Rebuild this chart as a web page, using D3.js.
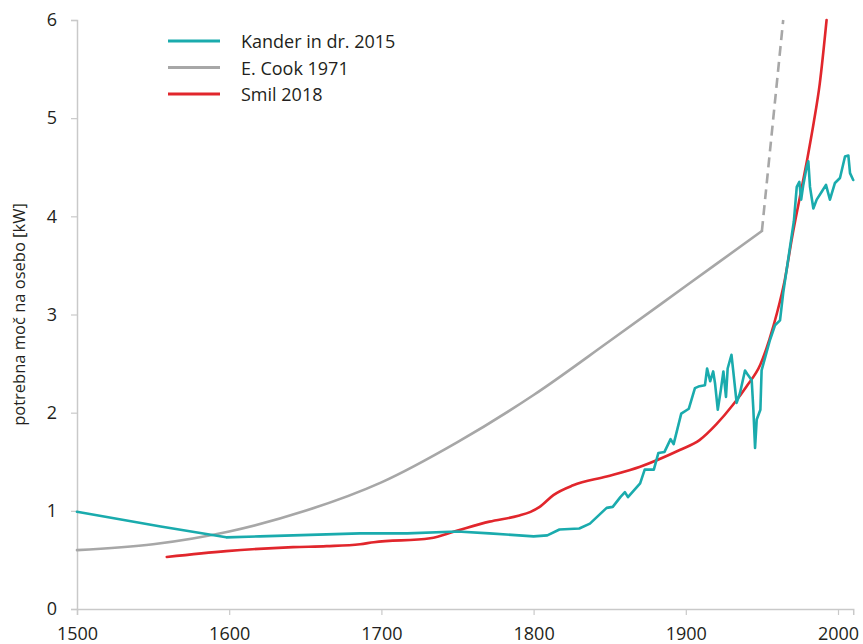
<!DOCTYPE html>
<html>
<head>
<meta charset="utf-8">
<script src="https://cdn.jsdelivr.net/npm/d3@7"></script>
<style>
  body { margin: 0; background: #fff; }
  text { font-family: "Open Sans", sans-serif; fill: #231f20; }
</style>
</head>
<body>
<div id="viz"></div>
<script>
const width = 863;
const height = 644;
const margin = {top: 20, right: 9, bottom: 35, left: 77};

const xTicks = [1500, 1600, 1700, 1800, 1900, 2000];
const yTicks = [0, 1, 2, 3, 4, 5, 6];
const yTitle = 'potrebna moč na osebo [kW]';

// Kander in dr. 2015
const kanderYears = [1500, 1555, 1598, 1620, 1686, 1717, 1750, 1771, 1800, 1809, 1817, 1830, 1837, 1848, 1852,
  1857, 1860, 1862, 1870, 1873, 1879, 1882, 1886, 1890, 1892, 1897, 1902, 1906, 1909, 1912.6, 1914, 1916, 1918,
  1919.2, 1921, 1923, 1924.7, 1926.4, 1927.5, 1930, 1931.2, 1933.4, 1935.6, 1938.9, 1941, 1943.3, 1944.4, 1945.5,
  1946.6, 1949, 1949.8, 1955.3, 1958.6, 1961.9, 1964, 1968.5, 1971, 1972.9, 1974.6, 1975.8, 1977.2, 1979.5, 1980.5,
  1981.6, 1983.8, 1986, 1989.3, 1992.1, 1994.7, 1998, 2001.3, 2004.6, 2006.8, 2007.9, 2010];
const kanderValues = [0.99, 0.84, 0.73, 0.74, 0.77, 0.77, 0.79, 0.77, 0.74, 0.75, 0.81, 0.82, 0.87, 1.03, 1.04,
  1.14, 1.19, 1.14, 1.28, 1.42, 1.42, 1.59, 1.6, 1.73, 1.68, 1.99, 2.04, 2.25, 2.27, 2.28, 2.45, 2.32, 2.42,
  2.3, 2.03, 2.23, 2.42, 2.16, 2.45, 2.59, 2.42, 2.1, 2.2, 2.43, 2.38, 2.33, 2.03, 1.64,
  1.93, 2.03, 2.43, 2.74, 2.89, 2.94, 3.22, 3.69, 3.95, 4.3, 4.35, 4.17, 4.32, 4.51, 4.56,
  4.3, 4.08, 4.17, 4.25, 4.32, 4.17, 4.34, 4.39, 4.61, 4.62, 4.44, 4.37];

// E. Cook 1971 (solid part, then dashed extension)
const cookYears = [1500, 1550, 1600, 1650, 1700, 1750, 1800, 1850, 1900, 1950];
const cookValues = [0.6, 0.66, 0.79, 1.0, 1.29, 1.7, 2.18, 2.73, 3.29, 3.85];
const cookDashYears = [1950, 1964];
const cookDashValues = [3.85, 6.0];

// Smil 2018
const smilYears = [1559, 1598, 1642, 1664, 1686, 1695, 1732, 1750, 1771, 1790, 1798, 1804, 1813, 1826, 1848, 1870, 1896,
  1909, 1920, 1931, 1940, 1949, 1955, 1960, 1965, 1970, 1975, 1980, 1984, 1988, 1992.5];
const smilValues = [0.53, 0.59, 0.63, 0.64, 0.66, 0.68, 0.72, 0.8, 0.89, 0.95, 0.99, 1.04, 1.16, 1.26, 1.35, 1.45, 1.62,
  1.72, 1.88, 2.08, 2.27, 2.49, 2.75, 3.02, 3.35, 3.8, 4.2, 4.6, 4.95, 5.35, 6.0];

const seriesNames = ['Kander in dr. 2015', 'E. Cook 1971', 'Smil 2018'];
const seriesColors = ['#1aabad', '#a7a7a7', '#e1262c'];

const zip = (xs, ys) => xs.map((x, i) => ({year: x, value: ys[i]}));

const xScale = d3.scaleLinear()
  .domain([1500, 2010])
  .range([margin.left, 77 + 510 * 1.522]);

const yScale = d3.scaleLinear()
  .domain([0, 6])
  .range([height - margin.bottom, margin.top]);

const svg = d3.select('#viz')
  .append('svg')
    .attr('width', width)
    .attr('height', height)
    .attr('viewBox', [0, 0, width, height]);

const axisColor = '#c9c9c9';

const xAxis = svg.append('g')
  .attr('transform', `translate(0, ${yScale(0)})`)
  .call(d3.axisBottom(xScale).tickValues(xTicks).tickFormat(d3.format('d'))
    .tickSizeOuter(0).tickSize(6).tickPadding(12));

const yAxis = svg.append('g')
  .attr('transform', `translate(${xScale(1500)}, 0)`)
  .call(d3.axisLeft(yScale).tickValues(yTicks).tickFormat(d3.format('d'))
    .tickSizeOuter(0).tickSize(6).tickPadding(14));

[xAxis, yAxis].forEach(ax => {
  ax.select('.domain').attr('stroke', axisColor).attr('stroke-width', 1.5);
  ax.selectAll('.tick line').attr('stroke', axisColor).attr('stroke-width', 1.2);
  ax.selectAll('.tick text')
    .attr('font-family', '"Open Sans", sans-serif')
    .attr('font-size', 18)
    .attr('fill', '#231f20');
});

svg.append('text')
  .attr('transform', `translate(18, ${(yScale(0) + yScale(6)) / 2}) rotate(-90)`)
  .attr('text-anchor', 'middle')
  .attr('dominant-baseline', 'central')
  .attr('font-size', 16.5)
  .text(yTitle);

const smooth = d3.line()
  .x(d => xScale(d.year))
  .y(d => yScale(d.value))
  .curve(d3.curveMonotoneX);

const soft = d3.line()
  .x(d => xScale(d.year))
  .y(d => yScale(d.value))
  .curve(d3.curveCatmullRom);

const straight = d3.line()
  .x(d => xScale(d.year))
  .y(d => yScale(d.value));

const lines = svg.append('g')
  .attr('fill', 'none')
  .attr('stroke-width', 2.6)
  .attr('stroke-linejoin', 'round')
  .attr('stroke-linecap', 'round');

lines.append('path')
  .attr('d', soft(zip(cookYears, cookValues)))
  .attr('stroke', seriesColors[1]);

lines.append('path')
  .attr('d', straight(zip(cookDashYears, cookDashValues)))
  .attr('stroke', seriesColors[1])
  .attr('stroke-linecap', 'butt')
  .attr('stroke-dasharray', '10,6');

lines.append('path')
  .attr('d', smooth(zip(smilYears, smilValues)))
  .attr('stroke', seriesColors[2]);

lines.append('path')
  .attr('d', straight(zip(kanderYears, kanderValues)))
  .attr('stroke', seriesColors[0]);

// legend
const legend = svg.append('g')
  .attr('transform', 'translate(168, 41)')
  .selectAll('g')
  .data(seriesNames)
  .join('g')
    .attr('transform', (d, i) => `translate(0, ${i * 26.5})`);

legend.append('line')
  .attr('x1', 0)
  .attr('x2', 52)
  .attr('stroke', (d, i) => seriesColors[i])
  .attr('stroke-width', 2.8);

legend.append('text')
  .attr('x', 73)
  .attr('dominant-baseline', 'central')
  .attr('font-size', 18)
  .text(d => d);
</script>
</body>
</html>
